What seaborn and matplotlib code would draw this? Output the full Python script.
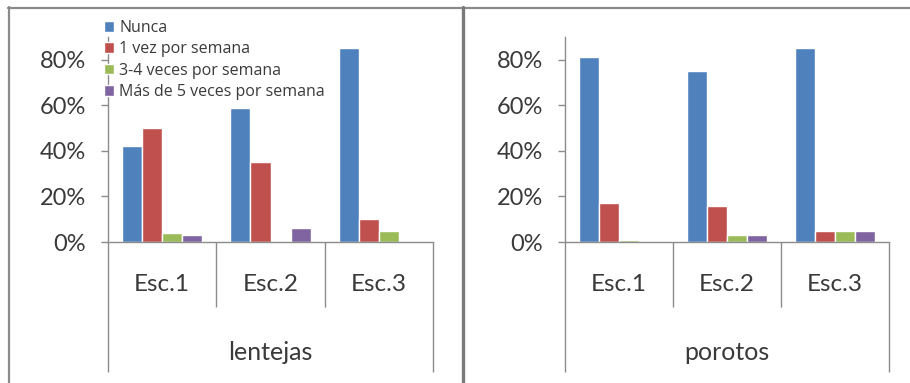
import matplotlib
matplotlib.use("Agg")
import matplotlib.pyplot as plt
from matplotlib.lines import Line2D
from matplotlib.ticker import PercentFormatter
import seaborn as sns
import pandas as pd

sns.set_theme(style="white")
plt.rcParams["font.family"] = ["Lato", "DejaVu Sans"]

escuelas = ["Esc.1", "Esc.2", "Esc.3"]
frecuencias = ["Nunca", "1 vez por semana", "3-4 veces por semana", "Más de 5 veces por semana"]
colores = ["#4F81BD", "#C0504D", "#9BBB59", "#8064A2"]

# Porcentaje de alumnos por escuela y frecuencia de consumo
lentejas = {
    "Nunca": [0.42, 0.59, 0.85],
    "1 vez por semana": [0.50, 0.35, 0.10],
    "3-4 veces por semana": [0.04, 0.00, 0.05],
    "Más de 5 veces por semana": [0.03, 0.06, 0.00],
}
porotos = {
    "Nunca": [0.81, 0.75, 0.85],
    "1 vez por semana": [0.17, 0.16, 0.05],
    "3-4 veces por semana": [0.01, 0.03, 0.05],
    "Más de 5 veces por semana": [0.00, 0.03, 0.05],
}
alimentos = ["lentejas", "porotos"]
y_ticks = [0.0, 0.2, 0.4, 0.6, 0.8]


def tabla(valores):
    filas = []
    for f in frecuencias:
        for e, v in zip(escuelas, valores[f]):
            filas.append({"Escuela": e, "Frecuencia": f, "valor": v})
    return pd.DataFrame(filas)


W, H = 910, 383
fig = plt.figure(figsize=(W / 100, H / 100), dpi=100)
fig.patch.set_facecolor("white")


def px_rect(x0, y_top, x1, y_bottom):
    return [x0 / W, 1 - y_bottom / H, (x1 - x0) / W, (y_bottom - y_top) / H]


ax_l = fig.add_axes(px_rect(108, 37, 433, 242))
ax_r = fig.add_axes(px_rect(565, 37, 889, 242))

gris = "#8C8C8C"
texto = "#3A3A3A"
for ax, nombre, datos in zip([ax_l, ax_r], alimentos, [lentejas, porotos]):
    df = tabla(datos)
    sns.barplot(data=df, x="Escuela", y="valor", hue="Frecuencia",
                hue_order=frecuencias, order=escuelas, palette=colores,
                width=0.74, ax=ax, legend=(ax is ax_l), saturation=1,
                errorbar=None)
    ax.set_xlim(-0.5, 2.5)
    ax.set_ylim(0, 0.9)
    ax.set_yticks(y_ticks)
    ax.yaxis.set_major_formatter(PercentFormatter(1.0, decimals=0))
    ax.tick_params(axis="y", which="major", left=True, length=5, width=1,
                   color=gris, pad=11, labelsize=17, labelcolor=texto)
    ax.tick_params(axis="x", bottom=False, pad=17, labelsize=17.5,
                   labelcolor=texto)
    ax.set_ylabel("")
    ax.set_xlabel(nombre, fontsize=18, color=texto, labelpad=33)
    for s in ["top", "right"]:
        ax.spines[s].set_visible(False)
    for s in ["left", "bottom"]:
        ax.spines[s].set_color(gris)
        ax.spines[s].set_linewidth(1)
    ax.set_facecolor("none")
    trans = ax.get_xaxis_transform()
    ax.vlines([0.5, 1.5], 0, -0.317, transform=trans, colors=gris,
              linewidth=1, clip_on=False)
    ax.vlines([-0.5, 2.5], 0, -0.634, transform=trans, colors=gris,
              linewidth=1, clip_on=False)

leg = ax_l.legend(loc="upper left", bbox_to_anchor=(104 / W, 1 - 20 / H),
                  bbox_transform=fig.transFigure, frameon=False,
                  prop={"family": "Open Sans", "size": 11.5},
                  handlelength=0.65, handleheight=0.65,
                  handletextpad=0.3, labelspacing=0.33, borderpad=0,
                  borderaxespad=0)
for t in leg.get_texts():
    t.set_color(texto)

# Marco de la imagen y separador entre paneles
fig.add_artist(Line2D([8 / W, 1], [1 - 7.5 / H, 1 - 7.5 / H], color="#8A8A8A",
                      linewidth=1.6, transform=fig.transFigure))
fig.add_artist(Line2D([8.5 / W, 8.5 / W], [1 - 7 / H, 0], color="#8A8A8A",
                      linewidth=1.6, transform=fig.transFigure))
fig.add_artist(Line2D([463 / W, 463 / W], [1 - 7 / H, 0], color="#7A7A7A",
                      linewidth=2.4, transform=fig.transFigure))

fig.savefig("out.png", dpi=100, facecolor="white")
